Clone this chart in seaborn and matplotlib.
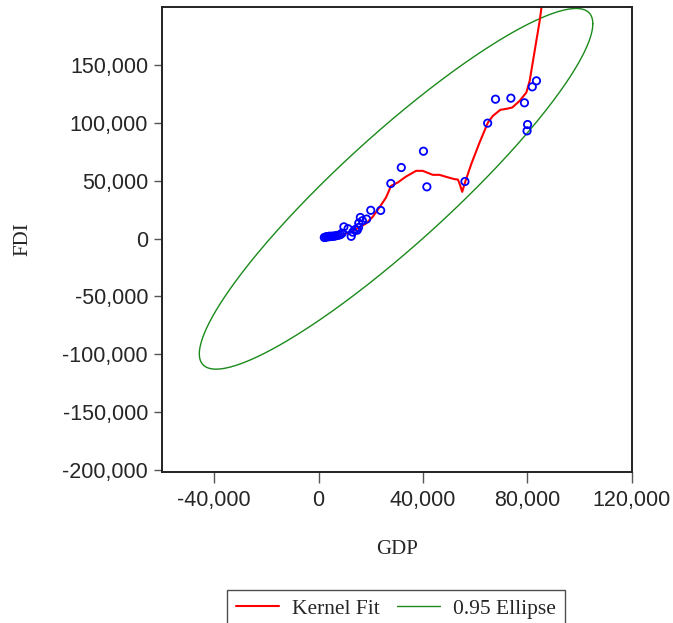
import numpy as np
import pandas as pd
import matplotlib
matplotlib.use("Agg")
import matplotlib.pyplot as plt
import matplotlib.ticker as mticker
import seaborn as sns

# -------------------------------
# Data
# -------------------------------
gdp = [2200, 2700, 3100, 3600, 4100, 4600, 5200, 5800, 6400, 7000, 7700, 8400, 9000,
       9700, 11300, 12500, 13100, 14100, 14800, 15300, 15400, 16000, 16800, 18400,
       20000, 23800, 27700, 31700, 40200, 41500, 56100, 64800, 67800, 73700, 78900,
       79900, 80100, 81900, 83500]
fdi = [900, 1200, 1600, 1400, 2000, 1700, 2100, 1900, 2300, 2600, 2900, 3400, 4600,
       10100, 8500, 1900, 5500, 7800, 7200, 9500, 13300, 18200, 15400, 16800,
       24400, 24300, 47600, 61400, 75500, 44700, 49300, 99800, 120500, 121400, 117400,
       93100, 98600, 131200, 136400]

# kernel fit curve
kern_x = [2300, 6660, 10500, 14340, 18180, 20740, 23300, 25860, 27780, 30340, 33540,
          37380, 39940, 41860, 43780, 46340, 48900, 52100, 53380, 54020, 55040, 56320,
          58500, 61700, 64900, 66820, 69630, 71940, 74240, 77060, 79620, 80900, 82180,
          83460, 84740, 85760, 86300]
kern_y = [-580, 2020, 4330, 8070, 12980, 18740, 26820, 35470, 45560, 48440, 53630,
          58540, 58540, 56800, 55080, 55080, 53350, 51330, 51040, 47580, 40370, 49880,
          64300, 83040, 100350, 106110, 111300, 112170, 113320, 119090, 126300, 136390,
          153690, 170990, 188290, 205600, 215000]

# 0.95 ellipse: centre, half extents and correlation
ell_center = (29700, 43000)
ell_half = (75400, 156000)
ell_rho = 0.915

# -------------------------------
# Build ellipse outline
# -------------------------------
t = np.linspace(0, 2 * np.pi, 400)
ell = pd.DataFrame({
    "x": ell_center[0] + ell_half[0] * np.cos(t),
    "y": ell_center[1] + ell_half[1] * (ell_rho * np.cos(t)
                                        + np.sqrt(1 - ell_rho ** 2) * np.sin(t)),
})
kern = pd.DataFrame({"x": kern_x, "y": kern_y})
pts = pd.DataFrame({"GDP": gdp, "FDI": fdi})

# -------------------------------
# Plot
# -------------------------------
sns.set_style("white")
plt.rcParams["font.family"] = ["Liberation Sans", "DejaVu Sans"]

fig = plt.figure(figsize=(6.73, 6.23), dpi=100)
ax = fig.add_axes([162 / 673, 1 - 471.7 / 623, 469.7 / 673, 464.4 / 623])

sns.lineplot(data=ell, x="x", y="y", sort=False, estimator=None, color="#1a8a1a",
             linewidth=1.0, ax=ax, label="0.95 Ellipse")
sns.lineplot(data=kern, x="x", y="y", sort=False, estimator=None, color="red",
             linewidth=1.5, ax=ax, label="Kernel Fit")
sns.scatterplot(data=pts, x="GDP", y="FDI", marker="o", s=28, facecolor="none",
                edgecolor="blue", linewidth=1.3, ax=ax, zorder=3)

ax.set_xlim(-60000, 120000)
ax.set_ylim(-201700, 200000)
ax.set_xticks([-40000, 0, 40000, 80000, 120000])
ax.set_yticks(np.arange(-200000, 150001, 50000))
fmt = mticker.FuncFormatter(lambda v, p: f"{int(v):,}")
ax.xaxis.set_major_formatter(fmt)
ax.yaxis.set_major_formatter(fmt)

ax.tick_params(axis="both", which="major", labelsize=15.5, direction="out",
               color="#555555", width=1)
ax.tick_params(axis="x", length=8, pad=5)
ax.tick_params(axis="y", length=6, pad=4)
ax.tick_params(left=True, bottom=True)

for s in ax.spines.values():
    s.set_color("#222222")
    s.set_linewidth(1.4)

serif = ["Liberation Serif", "DejaVu Serif"]
ax.set_xlabel("GDP", fontsize=15, family=serif)
ax.set_ylabel("FDI", fontsize=15, family=serif)
ax.xaxis.set_label_coords(0.5, -0.148)
ax.yaxis.set_label_coords(-0.276, 0.5)

# legend below, Kernel Fit first
ax.get_legend().remove()
handles, labels = ax.get_legend_handles_labels()
order = [labels.index("Kernel Fit"), labels.index("0.95 Ellipse")]
leg = fig.legend([handles[i] for i in order], [labels[i] for i in order],
                 loc="upper center", bbox_to_anchor=(396 / 673, 1 - 590 / 623),
                 ncol=2, frameon=True, fancybox=False, edgecolor="#222222",
                 prop={"family": serif, "size": 15.5}, handlelength=2.0,
                 handletextpad=0.6, columnspacing=0.8, borderpad=0.4,
                 borderaxespad=0)
leg.get_frame().set_linewidth(1.0)

fig.savefig("out.png", dpi=100)
